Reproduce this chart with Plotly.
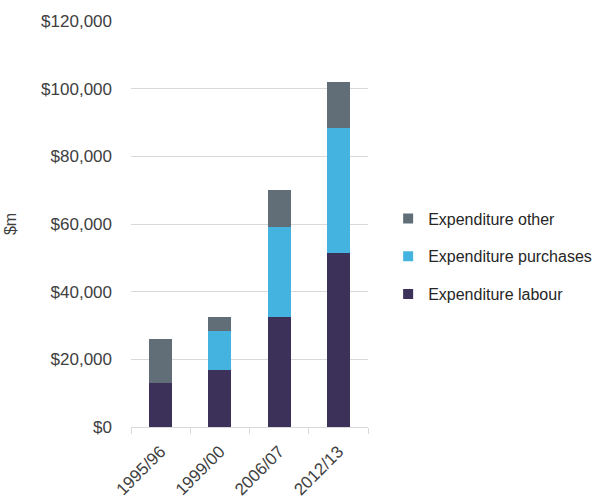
import plotly.graph_objects as go

# Expenditure by category, $m
years = ["1995/96", "1999/00", "2006/07", "2012/13"]
labour = [13000, 16750, 32500, 51400]
purchases = [0, 11600, 26600, 36900]
other = [13000, 4250, 10900, 13800]

series = [
    ("Expenditure labour", labour, "#3c3159"),
    ("Expenditure purchases", purchases, "#45b3e0"),
    ("Expenditure other", other, "#626e77"),
]

font_family = "Liberation Sans, Arial, sans-serif"
text_color = "#404040"
grid_color = "#d9d9d9"

fig = go.Figure()
for name, values, color in series:
    fig.add_trace(go.Bar(
        x=years, y=values, name=name,
        marker=dict(color=color, line=dict(width=0)),
        showlegend=False,
    ))

# Legend entries with small square swatches, top entry = top of stack
for name, values, color in reversed(series):
    fig.add_trace(go.Scatter(
        x=[None], y=[None], mode="markers", name=name,
        legendgroup=name,
        marker=dict(symbol="square", size=10, color=color),
    ))

fig.update_layout(
    width=609, height=499,
    margin=dict(l=131, r=241, t=21, b=72, pad=0, autoexpand=False),
    barmode="stack",
    bargap=0.61,
    plot_bgcolor="white",
    paper_bgcolor="white",
    font=dict(family=font_family, size=17, color=text_color),
    legend=dict(
        x=1.085, y=0.42, xanchor="left", yanchor="middle",
        traceorder="grouped",
        tracegroupgap=14,
        font=dict(size=16, color="#262626"),
        itemwidth=30,
    ),
    xaxis=dict(
        automargin=False,
        tickangle=-45,
        showline=True, linecolor=grid_color, linewidth=1,
        ticks="outside", tickson="boundaries", ticklen=6,
        tickcolor=grid_color,
        ticklabelstandoff=7,
        tickfont=dict(size=17, color=text_color),
    ),
    yaxis=dict(
        automargin=False,
        range=[0, 120000], dtick=20000,
        tickprefix="$", tickformat=",",
        showgrid=True, gridcolor=grid_color, gridwidth=1,
        zeroline=False,
        ticks="", ticklabelstandoff=18,
        tickfont=dict(size=17, color=text_color),
        title=dict(text="$m", standoff=20, font=dict(size=16, color=text_color)),
    ),
)

fig.write_html("out.html")
